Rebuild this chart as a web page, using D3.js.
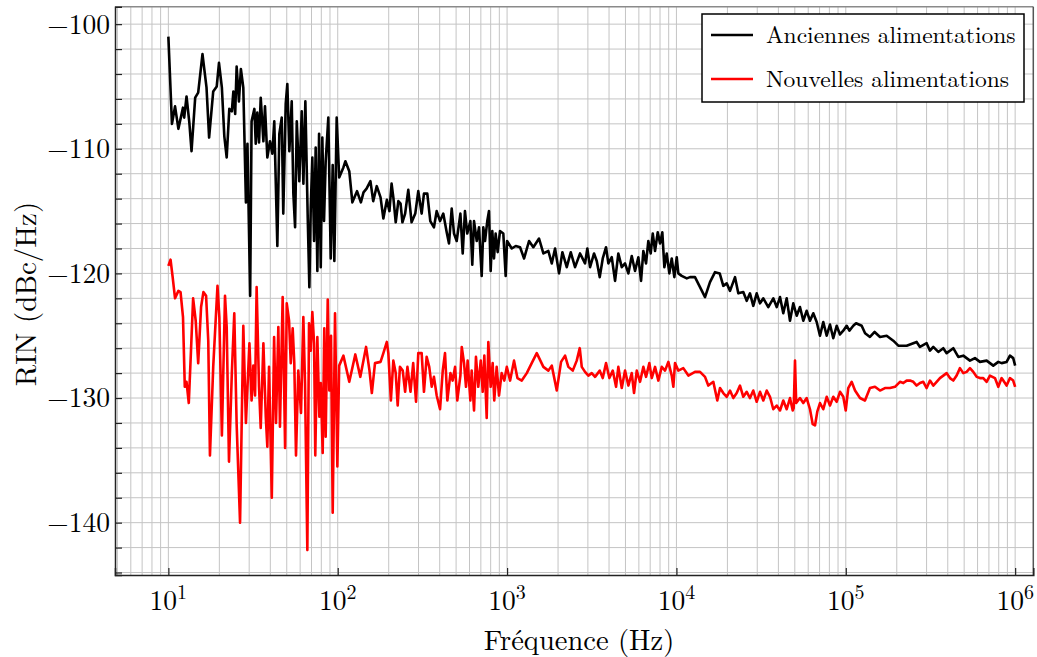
<!DOCTYPE html>
<html>
<head>
<meta charset="utf-8">
<script src="https://cdn.jsdelivr.net/npm/d3@7"></script>
<style>
  html, body { margin: 0; padding: 0; background: #ffffff; }
  svg { display: block; }
</style>
</head>
<body>
<svg id="chart" width="1037" height="657"></svg>
<script>
// ---------- DATA ----------
const seriesNames = ["Anciennes alimentations", "Nouvelles alimentations"];
const seriesColors = ["#000000", "#ff0000"];

const ancFreq = [10,10.5,10.95,11.46,12.2,12.4,12.8,13.3,13.7,14.4,15.0,15.9,16.8,17.4,18.4,19.3,19.9,20.7,21.4,22.1,22.9,23.7,24.2,24.8,25.3,26.1,26.8,27.7,28.7,29.3,30.4,31.0,32.2,32.8,33.5,34.3,35.1,36.4,37.2,38.4,39.8,41.1,42.2,44.0,45.2,46.7,47.7,49.3,50.4,51.8,53.5,54.7,56.0,57.3,59.3,61.3,62.7,64.4,66.5,68.0,69.3,70.8,72.5,74.1,75.8,77.6,79.4,81.1,83.0,84.9,88.0,90.9,93.4,95.5,98.6,
102,108,111,117,122,130,137,142,148,156,162,170,179,186,195,202,208,213,220,228,235,241,250,261,273,287,299,313,323,338,352,370,384,402,420,440,454,471,486,504,530,547,564,582,607,623,638,662,683,708,724,741,764,782,800,818,837,856,880,908,950,981,
1000,1066,1125,1193,1260,1348,1429,1544,1638,1753,1836,1920,2027,2121,2251,2376,2520,2697,2886,2978,3090,3262,3384,3525,3672,3840,3963,4150,4341,4539,4755,4972,5201,5447,5696,5958,6180,6378,6615,6825,7050,7246,7476,7756,8002,8255,8485,8765,9081,9381,9720,
10040,10260,10740,11510,12030,12870,13780,14750,15780,16900,18010,18910,19810,20720,22180,23190,24820,26000,27180,28430,29780,31140,32580,34860,37320,39090,40880,42750,44780,46830,48980,51300,53640,56110,58760,61460,64280,67330,70410,73640,77130,80660,84360,88350,92400,96640,
101200,105000,110700,115000,124100,130000,138900,148000,159200,174300,190700,204200,228800,250400,262000,274100,300200,314100,328600,351700,376400,394000,431300,461600,494100,541000,579000,619700,678700,742800,795100,832100,890600,931700,974000,1000000];
const ancRin = [-101.0,-108.0,-106.6,-108.4,-106.7,-107.5,-105.8,-107.9,-110.2,-105.9,-105.5,-102.4,-105.1,-109.1,-105.4,-105.0,-103.1,-105.1,-109.0,-110.7,-106.8,-107.0,-105.4,-107.2,-103.4,-106.2,-103.6,-105.1,-114.3,-109.6,-121.8,-107.8,-106.8,-109.6,-107.1,-109.5,-105.9,-109.4,-106.6,-110.7,-109.4,-110.4,-107.8,-117.8,-108.8,-107.5,-115.2,-106.4,-104.8,-110.2,-106.2,-113.6,-116.3,-107.8,-112.6,-107.0,-112.8,-106.2,-115.5,-121.1,-114.7,-110.7,-117.4,-109.9,-119.8,-108.8,-119.5,-109.1,-115.8,-111.0,-107.5,-118.8,-111.3,-119.0,-107.5,
-112.3,-111.5,-111.0,-111.8,-114.3,-113.4,-114.3,-113.5,-113.2,-112.6,-114.2,-113.0,-113.9,-115.6,-114.1,-115.0,-112.8,-113.9,-115.9,-114.2,-114.4,-115.9,-115.2,-113.3,-115.9,-115.2,-113.4,-115.2,-113.6,-113.6,-115.8,-116.3,-115.0,-115.8,-115.2,-116.7,-117.6,-114.8,-116.8,-117.4,-115.2,-118.4,-115.0,-116.8,-115.8,-119.3,-115.8,-117.4,-116.3,-120.2,-116.3,-117.4,-115.8,-115.0,-119.8,-116.6,-118.8,-116.8,-118.3,-116.6,-116.8,-120.2,
-117.4,-118.0,-117.8,-117.9,-118.8,-117.4,-117.9,-117.2,-118.4,-118.2,-119.2,-118.0,-120.0,-118.3,-119.5,-118.3,-119.5,-118.4,-119.2,-118.0,-119.5,-118.4,-119.0,-120.3,-118.8,-117.9,-119.2,-118.7,-120.6,-118.4,-119.5,-119.2,-120.0,-118.6,-119.8,-118.7,-120.6,-118.2,-119.2,-117.4,-118.4,-116.8,-118.2,-116.7,-117.6,-116.7,-119.5,-118.4,-120.0,-118.8,-120.3,
-118.7,-120.0,-120.2,-120.4,-120.3,-120.3,-121.1,-121.9,-120.7,-119.9,-120.0,-121.0,-120.8,-121.4,-120.3,-121.6,-121.5,-122.2,-121.6,-122.6,-121.6,-122.4,-122.0,-122.7,-122.0,-122.7,-121.9,-123.2,-122.0,-123.8,-122.4,-123.4,-122.7,-123.8,-123.0,-123.8,-123.2,-123.9,-125.0,-123.9,-125.0,-124.1,-125.2,-124.2,-124.9,-124.6,
-124.2,-124.6,-124.2,-124.0,-124.2,-124.8,-125.1,-124.7,-125.1,-125.0,-125.4,-125.8,-125.8,-125.6,-125.5,-125.9,-125.6,-126.2,-125.9,-126.3,-126.0,-126.4,-126.0,-126.7,-126.6,-127.0,-126.8,-127.1,-127.0,-127.4,-127.1,-127.2,-127.1,-126.6,-126.8,-127.4];

const nouvFreq = [10.0,10.3,10.6,10.95,11.46,11.8,12.2,12.5,12.8,13.2,13.6,14.0,14.5,15.0,15.6,16.1,16.7,17.2,17.6,18.4,19.5,20.0,20.7,21.6,22.1,22.8,23.7,24.5,25.3,26.5,27.7,28.7,30.1,31.0,31.75,32.5,33.2,34.3,35.1,36.4,37.6,38.4,39.3,40.8,42.1,43.2,44.6,45.6,47.3,48.9,50.0,51.6,52.8,54.2,55.4,56.7,58.5,60.7,62.65,64.1,66.15,67.7,69.3,70.8,72.5,73.7,75.8,77.9,79.4,81.5,83.3,84.9,87.3,89.2,91.3,93.4,96.4,99.5,
102,108,117,127,136,147,154,159,166,179,186,195,199,206,213,220,226,233,242,250,258,269,279,290,299,313,323,335,347,359,370,384,402,417,430,444,463,477,493,508,530,540,557,572,585,607,618,638,655,676,699,718,734,758,775,800,822,840,868,896,929,963,996,
1042,1099,1151,1221,1307,1398,1497,1638,1753,1836,1965,2083,2200,2300,2442,2578,2686,2760,2886,3019,3162,3307,3525,3672,3840,4018,4207,4400,4539,4755,4972,5201,5447,5619,5830,6097,6378,6615,6920,7148,7476,7819,8189,8565,8958,9381,9589,9810,
10260,10980,11760,12870,13780,14750,15420,16510,17430,18080,18910,19810,20720,21670,22690,23730,24820,26000,27180,28430,29780,31140,32580,34120,35680,37320,39090,40880,42750,44780,46830,48600,49270,50130,50950,53640,56110,58760,61460,63780,65800,67870,70410,73640,77130,80660,84360,88350,92400,96640,99900,
103400,108300,113400,121300,129800,138900,148700,159200,170300,182300,195200,208900,218600,228800,239300,250400,262000,274100,286800,300200,314100,328600,343900,359700,376400,394000,412200,431300,451400,472200,494100,517100,541000,566000,592400,619700,648400,678700,709900,759800,795100,832100,890600,931700,974000,1000000];
const nouvRin = [-119.4,-118.9,-120.3,-122.0,-121.4,-121.5,-123.5,-129.1,-128.7,-130.4,-126.2,-122.0,-123.8,-127.2,-122.7,-121.5,-121.8,-125.4,-134.6,-127.5,-121.0,-123.5,-133.0,-121.8,-124.3,-135.1,-128.0,-123.2,-132.1,-140.0,-124.2,-132.0,-125.6,-130.2,-127.4,-129.8,-121.1,-129.1,-132.4,-125.6,-131.5,-133.9,-127.5,-138.0,-125.1,-132.0,-124.3,-132.3,-121.9,-134.0,-122.4,-123.8,-127.2,-124.4,-127.2,-134.6,-127.8,-131.2,-123.5,-128.8,-142.2,-124.0,-126.2,-123.1,-125.6,-134.6,-125.1,-131.5,-128.8,-134.4,-124.4,-133.1,-122.1,-129.4,-125.0,-139.2,-123.2,-135.5,
-127.4,-126.6,-128.7,-126.5,-128.3,-125.9,-127.8,-129.6,-127.2,-127.1,-126.4,-125.5,-126.4,-130.2,-127.0,-128.0,-130.6,-127.5,-127.8,-129.5,-127.5,-129.5,-127.2,-130.3,-126.4,-126.4,-129.5,-126.7,-127.5,-129.1,-128.3,-129.8,-130.9,-127.8,-126.4,-130.2,-128.0,-128.6,-127.5,-130.2,-128.2,-125.9,-127.2,-129.1,-127.0,-130.2,-127.8,-131.0,-126.7,-129.1,-127.0,-129.5,-126.6,-131.6,-125.5,-129.1,-127.2,-130.2,-127.5,-129.8,-128.0,-128.6,-127.5,
-128.6,-127.0,-128.4,-128.6,-128.0,-127.2,-126.4,-127.5,-127.8,-127.4,-129.4,-127.1,-126.6,-127.5,-127.8,-127.0,-126.0,-127.5,-127.9,-128.2,-128.0,-128.3,-127.8,-128.4,-127.2,-128.4,-127.8,-129.1,-127.5,-129.2,-127.8,-129.0,-128.0,-129.6,-127.8,-128.7,-127.5,-128.3,-127.2,-128.4,-127.5,-128.6,-127.5,-127.8,-127.1,-128.2,-129.1,-127.2,
-127.8,-127.6,-128.2,-127.9,-127.9,-128.3,-129.0,-128.7,-130.2,-129.2,-129.6,-129.9,-129.4,-130.0,-129.6,-129.0,-129.9,-129.5,-130.0,-129.4,-130.3,-129.5,-130.2,-129.4,-129.9,-130.9,-130.6,-131.0,-130.2,-130.9,-130.0,-131.0,-130.8,-127.0,-130.4,-130.0,-130.4,-130.0,-130.9,-132.1,-132.2,-131.1,-130.4,-130.9,-129.9,-130.6,-129.9,-130.3,-129.5,-129.9,-131.0,
-129.2,-128.7,-129.4,-130.0,-130.2,-129.2,-129.1,-129.4,-129.2,-129.2,-129.1,-128.7,-128.8,-128.6,-128.6,-128.7,-129.0,-128.8,-128.7,-129.2,-128.6,-129.0,-128.7,-128.4,-128.2,-128.0,-128.4,-128.6,-128.2,-127.6,-128.0,-127.9,-127.6,-127.9,-128.3,-128.4,-128.4,-128.7,-128.2,-128.4,-129.1,-128.4,-129.0,-128.4,-128.6,-129.1];

const xDomain = [4.84, 1.28e6];
const yDomain = [-144.2, -98.6];
const xTickValues = [1e1, 1e2, 1e3, 1e4, 1e5, 1e6];
const xTickExponents = ["1", "2", "3", "4", "5", "6"];
const yTickValues = [-100, -110, -120, -130, -140];
const xTitle = "Fréquence (Hz)";
const yTitle = "RIN (dBc/Hz)";

// ---------- LAYOUT ----------
const FONT = '"Latin Modern Roman", "CMU Serif", "Liberation Serif", serif';
const W = 1037, H = 657;
const margin = { left: 115, top: 6.7, right: 1037 - 1033.3, bottom: 657 - 575 };
const pw = W - margin.left - margin.right;
const ph = H - margin.top - margin.bottom;

const svg = d3.select("#chart");
const g = svg.append("g").attr("transform", `translate(${margin.left},${margin.top})`);

const x = d3.scaleLog().domain(xDomain).range([0, pw]);
const y = d3.scaleLinear().domain(yDomain).range([ph, 0]);

// ---------- GRID ----------
const xGrid = [];
for (let e = 0; e <= 6; e++) for (let m = 1; m <= 9; m++) {
  const v = m * Math.pow(10, e);
  if (v >= xDomain[0] && v <= xDomain[1]) xGrid.push(v);
}
const yGrid = d3.range(-144, -99, 2);

g.append("g").selectAll("line").data(xGrid).join("line")
  .attr("x1", d => x(d)).attr("x2", d => x(d))
  .attr("y1", 0).attr("y2", ph)
  .attr("stroke", "#c4c4c4").attr("stroke-width", 1);
g.append("g").selectAll("line").data(yGrid).join("line")
  .attr("x1", 0).attr("x2", pw)
  .attr("y1", d => y(d)).attr("y2", d => y(d))
  .attr("stroke", "#c4c4c4").attr("stroke-width", 1);

// ---------- LINES ----------
const line = d3.line().x(d => x(d[0])).y(d => y(d[1]));
const series = [
  { name: seriesNames[0], color: seriesColors[0], pts: d3.zip(ancFreq, ancRin) },
  { name: seriesNames[1], color: seriesColors[1], pts: d3.zip(nouvFreq, nouvRin) }
];
g.append("g").selectAll("path").data(series).join("path")
  .attr("d", d => line(d.pts))
  .attr("fill", "none")
  .attr("stroke", d => d.color)
  .attr("stroke-width", 2.6)
  .attr("stroke-linejoin", "round");

// ---------- FRAME ----------
g.append("line").attr("x1", 0).attr("x2", pw).attr("y1", 0).attr("y2", 0).attr("stroke", "#8a8a8a").attr("stroke-width", 1.5);
g.append("line").attr("x1", pw).attr("x2", pw).attr("y1", 0).attr("y2", ph).attr("stroke", "#555").attr("stroke-width", 1.5);

// ---------- AXES ----------
const xAxis = d3.axisBottom(x).tickValues(xTickValues).tickSize(-7).tickFormat("");
const xg = g.append("g").attr("transform", `translate(0,${ph})`).call(xAxis);
xg.select(".domain").attr("stroke", "#222").attr("stroke-width", 1.5);
xg.selectAll(".tick line").attr("stroke", "#222").attr("stroke-width", 1.2);

const yAxis = d3.axisLeft(y).tickValues(yGrid).tickSize(-7).tickFormat("");
const yg = g.append("g").call(yAxis);
yg.select(".domain").attr("stroke", "#222").attr("stroke-width", 1.5);
yg.selectAll(".tick line").attr("stroke", "#222").attr("stroke-width", 1.2);

// y tick labels
g.append("g").selectAll("text").data(yTickValues).join("text")
  .attr("x", -5).attr("y", d => y(d)).attr("dy", "0.34em")
  .attr("text-anchor", "end").style("font-family", FONT).style("font-size", "27.5px")
  .text(d => "\u2212" + Math.abs(d));

// x tick labels (10^n)
const xl = g.append("g").selectAll("text").data(xTickValues).join("text")
  .attr("x", d => x(d)).attr("y", ph + 35.5)
  .attr("text-anchor", "middle").style("font-family", FONT).style("font-size", "27.5px");
xl.append("tspan").text("10");
xl.append("tspan").attr("dy", -11).style("font-size", "20px").text((d, i) => xTickExponents[i]);

// axis titles
svg.append("text").attr("x", 579).attr("y", 650)
  .attr("text-anchor", "middle").style("font-family", FONT).style("font-size", "28.5px").text(xTitle);
svg.append("text").attr("transform", "translate(36,294) rotate(-90)")
  .attr("text-anchor", "middle").style("font-family", FONT).style("font-size", "29px").text(yTitle);

// ---------- LEGEND ----------
const lg = svg.append("g").attr("transform", "translate(702,14)");
lg.append("rect").attr("x", 0).attr("y", 0).attr("width", 322).attr("height", 88)
  .attr("fill", "#fff").attr("stroke", "#000").attr("stroke-width", 1.5);
const items = lg.selectAll("g.item").data(series).join("g")
  .attr("class", "item")
  .attr("transform", (d, i) => `translate(0,${21 + i * 44})`);
items.append("line").attr("x1", 9).attr("x2", 51).attr("y1", 0).attr("y2", 0)
  .attr("stroke", d => d.color).attr("stroke-width", 2.4);
items.append("text").attr("x", 64).attr("y", 0).attr("dy", "0.33em")
  .style("font-family", FONT).style("font-size", "23.5px").text(d => d.name);
</script>
</body>
</html>
